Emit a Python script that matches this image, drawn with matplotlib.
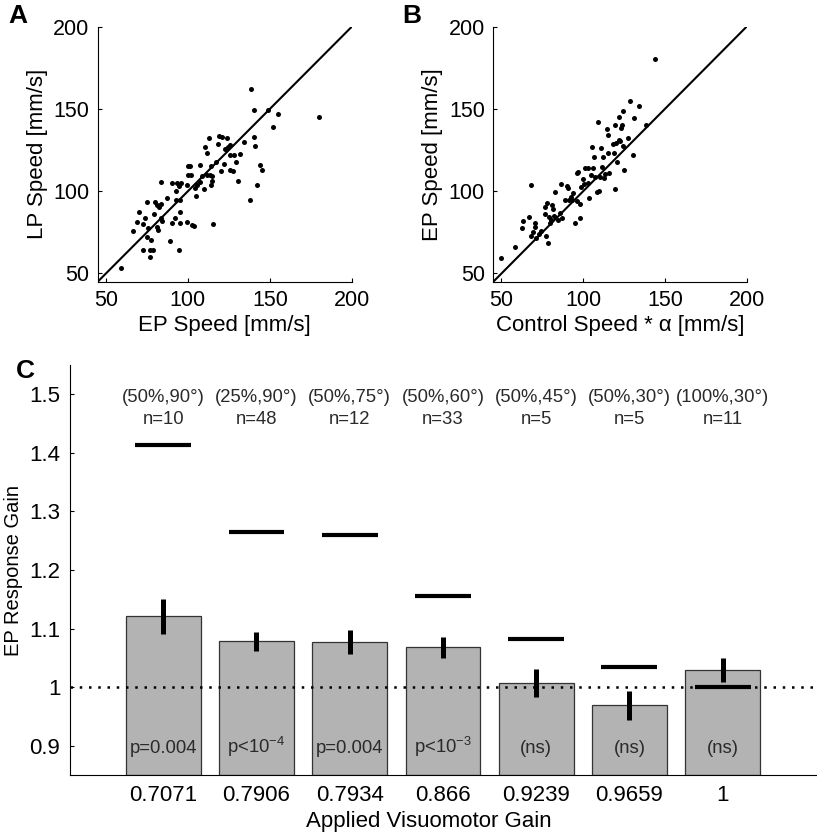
import matplotlib
matplotlib.use('Agg')
import matplotlib.pyplot as plt
import numpy as np

plt.rcParams['font.family'] = ['Liberation Sans', 'DejaVu Sans']

#####################
# panel A: EP speed vs LP speed [mm/s]
ep_speed_A = [59.1, 66.4, 68.8, 70.4, 73.7, 74.9, 72.9, 75.7, 75.3, 72.7, 77.0, 79.0, 77.1, 77.7,
              79.4, 79.8, 81.4, 82.6, 83.4, 81.8, 81.0, 83.8, 84.4, 83.6, 87.1, 89.3, 90.5, 90.5,
              92.3, 92.5, 93.5, 94.5, 92.5, 95.1, 95.5, 95.5, 94.7, 96.0, 99.2, 99.6, 100.0, 100.0,
              101.6, 102.2, 102.6, 103.6, 104.3, 105.3, 104.9, 107.3, 107.7, 108.7, 110.1, 110.7,
              111.7, 112.8, 111.7, 113.4, 114.2, 114.2, 114.8, 114.8, 115.2, 117.0, 118.2, 119.0,
              120.6, 120.4, 121.9, 122.7, 123.9, 124.5, 125.9, 125.5, 125.9, 127.5, 127.9, 129.1,
              130.8, 132.0, 134.2, 137.7, 138.3, 140.1, 140.5, 140.7, 141.9, 144.3, 145.1, 148.8,
              151.8, 154.7, 180.2]
lp_speed_A = [53.4, 76.1, 81.2, 87.4, 83.6, 93.3, 79.8, 77.7, 72.3, 64.2, 64.2, 64.2, 60.3, 70.6,
              86.4, 93.3, 91.9, 90.5, 92.5, 76.7, 78.3, 83.8, 81.8, 105.5, 96.0, 69.6, 105.1, 80.8,
              83.6, 100.0, 105.1, 103.0, 94.9, 94.9, 87.2, 80.8, 64.2, 105.1, 81.4, 104.0, 115.2, 110.1,
              115.2, 110.1, 79.4, 78.9, 102.0, 104.0, 97.0, 116.2, 105.5, 109.1, 101.4, 126.9,
              123.3, 132.4, 110.1, 109.7, 115.2, 103.6, 109.1, 106.1, 80.2, 117.6, 128.9, 133.6,
              133.0, 112.1, 116.8, 125.9, 132.4, 126.9, 128.3, 122.1, 113.2, 112.1, 122.1, 117.6,
              106.1, 122.9, 129.8, 94.5, 162.0, 132.8, 149.4, 127.7, 104.0, 116.2, 112.8, 149.6,
              138.9, 146.8, 144.9]

# panel B: control speed * alpha vs EP speed [mm/s]
ctrl_speed_B = [50.0, 58.1, 62.4, 63.2, 66.7, 67.9, 68.3, 69.3, 70.3, 70.7, 71.3, 72.8, 74.0, 76.4,
                77.4, 78.5, 76.8, 78.0, 78.9, 79.5, 80.5, 80.9, 81.5, 82.1, 82.7, 84.6, 85.6, 86.6,
                87.2, 88.6, 89.8, 90.7, 91.1, 92.3, 93.3, 93.9, 95.3, 96.3, 96.1, 96.7, 97.8, 97.8,
                98.8, 99.8, 100.8, 101.2, 102.8, 102.8, 103.5, 104.7, 105.3, 106.1, 106.5, 107.3,
                108.5, 109.3, 109.9, 110.6, 111.2, 112.0, 111.8, 113.0, 113.6, 114.4, 115.0, 115.4,
                116.1, 118.1, 118.7, 119.3, 119.7, 120.5, 121.7, 122.6, 123.2, 123.8, 124.2, 124.6,
                125.2, 127.2, 128.7, 130.3, 131.3, 134.1, 138.6, 143.9, 120.0, 122.0]
ep_speed_B = [59.3, 66.2, 77.4, 82.0, 84.1, 103.8, 72.7, 75.4, 80.8, 78.4, 71.3, 74.3, 76.0, 86.1,
              72.7, 68.7, 90.6, 93.0, 84.5, 80.4, 82.5, 91.6, 88.9, 84.9, 99.3, 82.5, 86.5, 104.4,
              83.5, 94.6, 103.3, 101.7, 94.6, 96.6, 94.6, 99.1, 80.4, 94.0, 110.9, 111.7, 83.5, 92.2,
              102.7, 107.4, 104.4, 114.3, 114.3, 104.8, 95.6, 109.8, 126.7, 114.3, 120.6, 108.8,
              99.7, 142.3, 100.3, 108.8, 126.1, 120.6, 114.9, 107.8, 110.2, 137.8, 134.2, 123.0,
              110.9, 128.7, 123.4, 140.3, 101.3, 118.0, 145.3, 130.7, 138.2, 140.3, 149.0, 127.5,
              112.9, 132.1, 154.9, 122.0, 144.7, 151.8, 140.3, 180.2, 129.5, 131.0]

# panel C: response gain per condition
gain_labels = ['0.7071', '0.7906', '0.7934', '0.866', '0.9239', '0.9659', '1']
conditions = ['(50%,90°)', '(25%,90°)', '(50%,75°)', '(50%,60°)', '(50%,45°)', '(50%,30°)', '(100%,30°)']
n_trials = [10, 48, 12, 33, 5, 5, 11]
response_gain = [1.121, 1.079, 1.077, 1.068, 1.007, 0.969, 1.029]
err_low = [1.090, 1.062, 1.057, 1.050, 0.983, 0.944, 1.009]
err_high = [1.151, 1.095, 1.097, 1.086, 1.031, 0.994, 1.049]
expected_gain = [1.414, 1.265, 1.260, 1.155, 1.082, 1.035, 1.0]
p_labels = ['p=0.004', r'p<10$^{\mathregular{-4}}$', 'p=0.004', r'p<10$^{\mathregular{-3}}$',
            '(ns)', '(ns)', '(ns)']
#####################

fig = plt.figure(figsize=(8.17, 8.34), dpi=100)

def style_axes(ax, fs, pad):
    ax.spines['top'].set_visible(False)
    ax.spines['right'].set_visible(False)
    ax.tick_params(direction='in', length=3, width=0.8, labelsize=fs, pad=pad)

# scatter panels
for pos, xs, ys, xl, yl in [([0.1196, 0.6622, 0.311, 0.3058], ep_speed_A, lp_speed_A,
                            'EP Speed [mm/s]', 'LP Speed [mm/s]'),
                           ([0.6038, 0.6622, 0.310, 0.3058], ctrl_speed_B, ep_speed_B,
                            'Control Speed * α [mm/s]', 'EP Speed [mm/s]')]:
    ax = fig.add_axes(pos)
    ax.plot([45, 200], [45, 200], '-', color='k', lw=1.5)
    ax.plot(xs, ys, 'o', color='k', markersize=3.6, markeredgewidth=0)
    ax.set_xlim(45, 200)
    ax.set_ylim(45, 200)
    ax.set_xticks([50, 100, 150, 200])
    ax.set_yticks([50, 100, 150, 200])
    style_axes(ax, 15.5, 6)
    ax.set_xlabel(xl, fontsize=16, labelpad=3)
    ax.set_ylabel(yl, fontsize=16, labelpad=4)

# bar panel
ax = fig.add_axes([0.0857, 0.0707, 0.913, 0.4916])
x = np.arange(1, len(response_gain) + 1)
ax.bar(x, np.array(response_gain) - 0.85, bottom=0.85, width=0.8, color='#b3b3b3',
       edgecolor='#333333', linewidth=0.9, zorder=2)
ax.plot([0, 8], [1, 1], color='k', lw=1.8, linestyle=(0, (1, 2.7)), zorder=3)
for i in range(len(x)):
    ax.plot([x[i], x[i]], [err_low[i], err_high[i]], color='k', lw=3.6,
            solid_capstyle='butt', zorder=4)
    ax.plot([x[i] - 0.3, x[i] + 0.3], [expected_gain[i], expected_gain[i]], color='k',
            lw=3.0, solid_capstyle='butt', zorder=4)
    ax.text(x[i], 1.487, conditions[i], ha='center', va='baseline', fontsize=13.3, color='#2a2a2a')
    ax.text(x[i], 1.449, 'n=%d' % n_trials[i], ha='center', va='baseline', fontsize=13.3,
            color='#2a2a2a')
    ax.text(x[i], 0.888, p_labels[i], ha='center', va='baseline', fontsize=13.3, color='#2a2a2a',
            zorder=5)
ax.set_xlim(0, 8)
ax.set_ylim(0.85, 1.55)
ax.set_xticks(x)
ax.set_xticklabels(gain_labels)
ax.set_yticks([0.9, 1.0, 1.1, 1.2, 1.3, 1.4, 1.5])
ax.set_yticklabels(['0.9', '1', '1.1', '1.2', '1.3', '1.4', '1.5'])
style_axes(ax, 16, 7)
ax.tick_params(axis='x', length=0)
ax.set_xlabel('Applied Visuomotor Gain', fontsize=16, va='baseline')
ax.xaxis.set_label_coords(0.481, -0.127)
ax.set_ylabel('EP Response Gain', fontsize=14.5)
ax.yaxis.set_label_coords(-0.063, 0.5)

# panel letters
fig.text(18 / 817, 1 - 16 / 834, 'A', fontsize=19, fontweight='bold', ha='center', va='center')
fig.text(412 / 817, 1 - 16 / 834, 'B', fontsize=19, fontweight='bold', ha='center', va='center')
fig.text(25 / 817, 1 - 371 / 834, 'C', fontsize=19, fontweight='bold', ha='center', va='center')

plt.savefig('out.png', dpi=100)
